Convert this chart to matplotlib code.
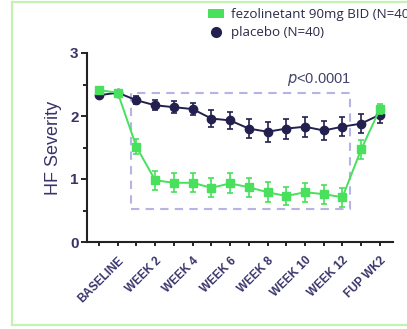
import matplotlib
matplotlib.use("Agg")
import matplotlib.pyplot as plt
from matplotlib.patches import Rectangle, Patch
from matplotlib.lines import Line2D
import numpy as np

plt.rcParams['font.family'] = ['Liberation Sans', 'DejaVu Sans']

# visits: screening, baseline, week 1..12, FUP WK1, FUP WK2
tick_labels = ["", "BASELINE", "", "WEEK 2", "", "WEEK 4", "", "WEEK 6", "",
               "WEEK 8", "", "WEEK 10", "", "WEEK 12", "", "FUP WK2"]

fezo_mean = [2.41, 2.37, 1.51, 0.98, 0.94, 0.94, 0.86, 0.93, 0.87, 0.79,
             0.73, 0.79, 0.76, 0.71, 1.47, 2.11]
fezo_err = [0.04, 0.03, 0.12, 0.15, 0.15, 0.15, 0.15, 0.16, 0.15, 0.16,
            0.15, 0.15, 0.15, 0.15, 0.15, 0.08]
plac_mean = [2.33, 2.37, 2.25, 2.17, 2.14, 2.11, 1.96, 1.93, 1.80, 1.75,
             1.80, 1.83, 1.77, 1.83, 1.88, 2.02]
plac_err = [0.03, 0.03, 0.06, 0.08, 0.10, 0.09, 0.13, 0.14, 0.145, 0.16,
            0.16, 0.16, 0.15, 0.15, 0.15, 0.13]

green = "#48e05c"
navy = "#23204f"
frame = "#c4f2b2"

fig = plt.figure(figsize=(4.07, 3.29), dpi=100)
# light green frame (right side runs off the image)
fl, ft, fb = 12 / 407, 1 - 1.5 / 329, 1 - 325 / 329
for xs, ys in [([fl, fl], [fb, ft]), ([fl, 1], [ft, ft]), ([fl, 1], [fb, fb])]:
    fig.add_artist(Line2D(xs, ys, transform=fig.transFigure, color=frame,
                          linewidth=1.6))

ax = fig.add_axes([87 / 407, 1 - 242 / 329, (393 - 87) / 407, (242 - 53) / 329])
x = np.arange(len(fezo_mean))

ax.errorbar(x, plac_mean, yerr=plac_err, color=navy, marker="o", markersize=6,
            linewidth=1.4, capsize=2.5, elinewidth=1.2, capthick=1.2, zorder=3)
ax.errorbar(x, fezo_mean, yerr=fezo_err, color=green, marker="s", markersize=6,
            linewidth=1.4, capsize=2.5, elinewidth=1.2, capthick=1.2, zorder=4)

# significance box
ax.add_patch(Rectangle((1.71, 0.52), 13.4 - 1.71, 2.37 - 0.52, fill=False,
                       edgecolor="#b4b4e6", linestyle=(0, (4, 3)),
                       linewidth=1.5, zorder=2))
ax.text(13.45, 2.44, r"$\it{p}$<0.0001", ha="right", va="bottom",
        fontsize=10.5, color="#44446a")

ax.set_xlim(-0.64, 15.7)
ax.set_ylim(0, 3)
ax.set_xticks(x)
ax.set_xticklabels(tick_labels, rotation=45, ha="right",
                   rotation_mode="anchor", fontsize=8.5, fontweight="bold",
                   color="#38346a")
ax.set_yticks([0, 1, 2, 3])
ax.set_yticks([0.5, 1.5, 2.5], minor=True)
ax.tick_params(axis="y", labelsize=11, labelcolor="#38346a", width=1.2,
               length=4, pad=2)
ax.tick_params(axis="y", which="minor", width=1.2, length=3)
ax.tick_params(axis="x", width=1.2, length=3, pad=6)
for lbl in ax.get_yticklabels():
    lbl.set_fontweight("bold")
ax.set_ylabel("HF Severity", fontsize=13, color="#38346a", labelpad=6)
ax.spines["top"].set_visible(False)
ax.spines["right"].set_visible(False)
ax.spines["left"].set_linewidth(1.5)
ax.spines["bottom"].set_linewidth(1.5)
ax.spines["left"].set_color("#222222")
ax.spines["bottom"].set_color("#222222")

handles = [Patch(facecolor=green, edgecolor="none"),
           Line2D([], [], color=navy, marker="o", markersize=7, linestyle="")]
leg = fig.legend(handles, ["fezolinetant 90mg BID (N=40)", "placebo (N=40)"],
                 loc="upper left", bbox_to_anchor=(208 / 407, 1 - 8 / 329),
                 frameon=False, handlelength=1.2,
                 handleheight=0.6, handletextpad=0.5, labelspacing=0.4,
                 borderaxespad=0, borderpad=0, prop={"family": "Open Sans",
                                                     "size": 9.6})
for t in leg.get_texts():
    t.set_color("#2a2a4a")

plt.savefig("out.png", dpi=100)
